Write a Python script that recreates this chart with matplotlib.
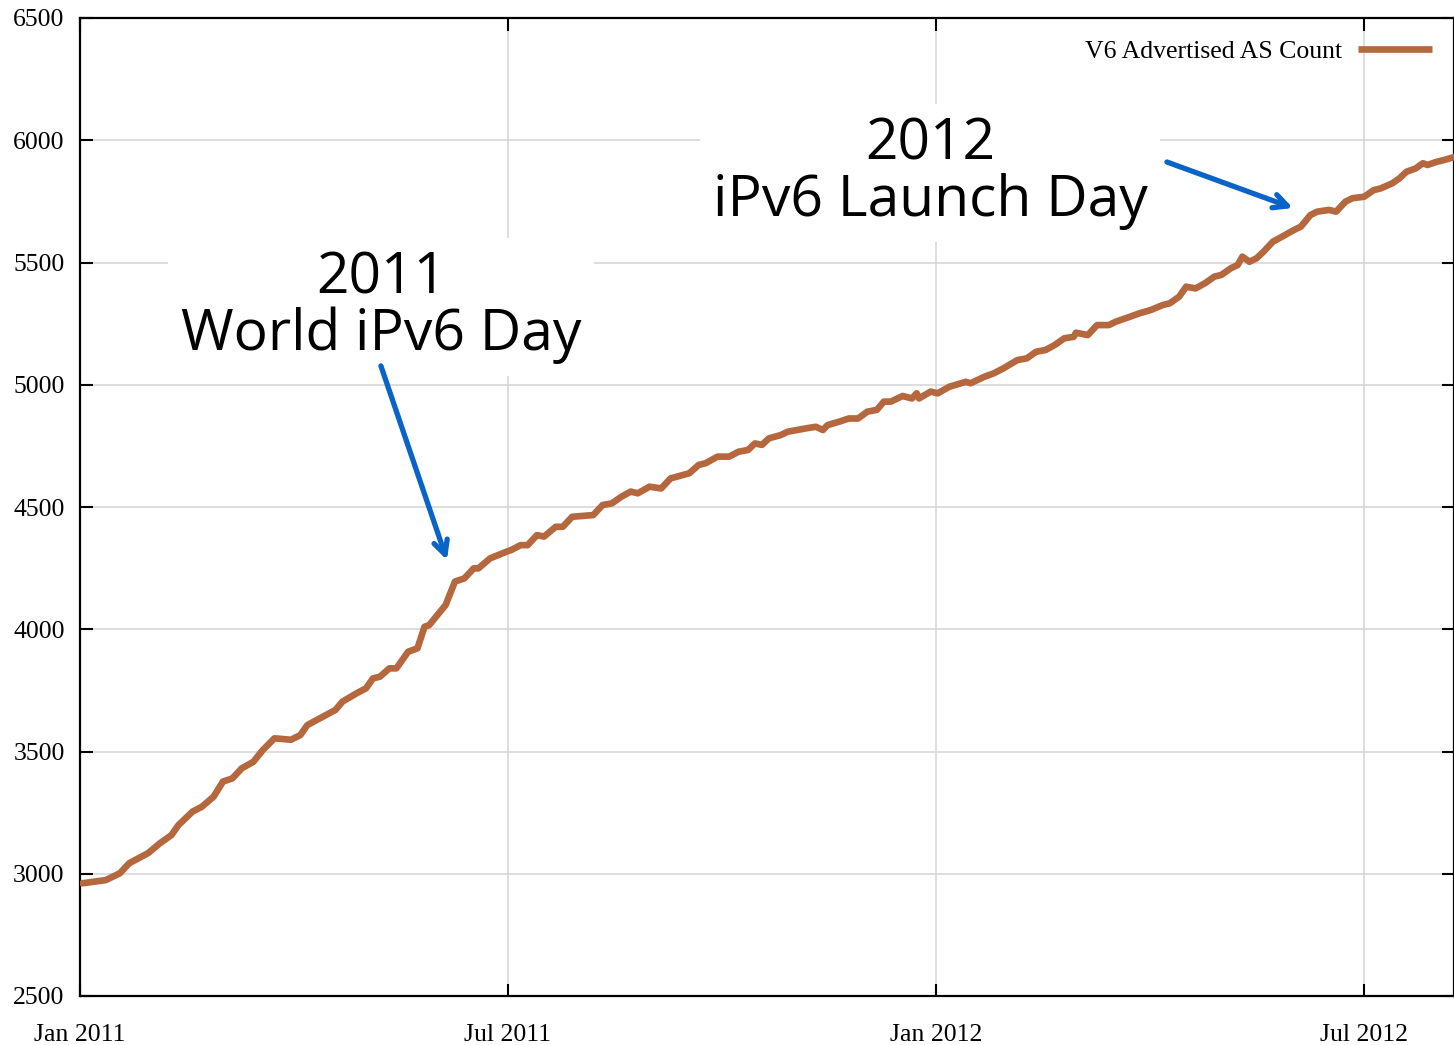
import matplotlib
matplotlib.use("Agg")
import matplotlib.pyplot as plt
import pandas as pd
import numpy as np

# ---- data ----
start = "2011-01-01"
days = [1, 11, 17, 21, 29, 34, 39, 42, 48, 52, 57, 61, 65, 69, 74, 78, 83, 90, 94, 97,
        105, 109, 112, 118, 122, 125, 128, 132, 135, 140, 144, 147, 149, 156, 160, 164, 168, 170, 175, 182,
        184, 188, 191, 195, 198, 203, 206, 210, 219, 223, 227, 231, 235, 238, 243, 248, 252, 260, 264, 267,
        272, 277, 281, 285, 288, 291, 294, 299, 302, 310, 314, 317, 319, 324, 328, 332, 336, 340, 343, 346,
        351, 355, 357, 358, 363, 366, 371, 378, 380, 386, 390, 394, 400, 404, 408, 412, 416, 420, 424, 425,
        430, 434, 439, 442, 448, 452, 457, 462, 465, 469, 472, 476, 480, 484, 487, 491, 494, 496, 499, 502,
        505, 509, 513, 518, 521, 525, 528, 533, 536, 540, 543, 548, 552, 555, 560, 563, 566, 570, 573, 575,
        579, 582, 587]
as_count = [2961, 2974, 3002, 3043, 3084, 3124, 3158, 3199, 3254, 3274, 3315, 3377, 3390, 3431, 3458, 3506, 3554, 3548, 3567, 3608,
            3649, 3670, 3704, 3738, 3758, 3799, 3806, 3840, 3840, 3908, 3922, 4010, 4017, 4099, 4195, 4208, 4249, 4249, 4290, 4317,
            4324, 4344, 4344, 4385, 4379, 4419, 4419, 4460, 4467, 4508, 4515, 4542, 4563, 4556, 4583, 4576, 4617, 4638, 4672, 4679,
            4706, 4706, 4726, 4733, 4760, 4754, 4781, 4794, 4808, 4822, 4828, 4815, 4835, 4849, 4862, 4862, 4890, 4897, 4931, 4931,
            4954, 4944, 4965, 4944, 4972, 4965, 4992, 5012, 5006, 5033, 5047, 5067, 5101, 5108, 5135, 5142, 5163, 5190, 5196, 5213,
            5203, 5244, 5244, 5258, 5278, 5292, 5306, 5326, 5333, 5360, 5401, 5394, 5415, 5442, 5449, 5476, 5490, 5524, 5503, 5517,
            5544, 5585, 5606, 5633, 5647, 5694, 5708, 5715, 5708, 5749, 5763, 5769, 5796, 5803, 5824, 5844, 5871, 5885, 5906, 5899,
            5912, 5919, 5933]
series_label = "V6 Advertised AS Count"

# x ticks every half year (365.25/2 days), as in the original
tick_days = [0, 182.625, 365.25, 547.875]
tick_labels = ["Jan 2011", "Jul 2011", "Jan 2012", "Jul 2012"]
y_ticks = [2500, 3000, 3500, 4000, 4500, 5000, 5500, 6000, 6500]

annot1_text = "2011\nWorld iPv6 Day"
annot1_pos = (128.4, 5318)
annot1_tip = (156.6, 4283)
annot1_tail = (128.4, 5077)

annot2_text = "2012\niPv6 Launch Day"
annot2_pos = (362.7, 5866)
annot2_tip = (517.6, 5723)
annot2_tail = (463.8, 5911)

# ---- figure ----
W, H = 1454, 1045
fig = plt.figure(figsize=(W / 100, H / 100), dpi=100)
ax = fig.add_axes([80 / W, (H - 996) / H, (1454 - 80) / W, (996 - 18) / H])

x = np.array(days, dtype=float)

line_color = "#b5673e"
ax.plot(x, as_count, color=line_color, lw=4.8, solid_joinstyle="round",
        solid_capstyle="round", label=series_label, zorder=4)

ax.set_xlim(0, 586.3)
ax.set_ylim(2500, 6500)
ax.set_xticks(tick_days)
ax.set_xticklabels(tick_labels)
ax.set_yticks(y_ticks)

serif = ["Liberation Serif", "DejaVu Serif"]
for lab in ax.get_xticklabels() + ax.get_yticklabels():
    lab.set_fontfamily(serif)
    lab.set_fontsize(18.5)

ax.grid(True, color="#d4d4d4", lw=1.1, zorder=0)
ax.set_axisbelow(True)
ax.tick_params(direction="in", length=9, width=1.5, top=True, right=True,
               color="black")
ax.tick_params(axis="x", pad=20)
ax.tick_params(axis="y", pad=11)
for s in ax.spines.values():
    s.set_linewidth(1.6)
    s.set_color("black")

leg = ax.legend(loc="upper right", frameon=False, markerfirst=False,
                prop={"family": serif, "size": 18.5}, handlelength=2.9,
                handletextpad=0.6, borderaxespad=0.55, borderpad=0.3)
for lh in leg.get_lines():
    lh.set_linewidth(4.8)
    lh.set_solid_capstyle("butt")

hand = ["Open Sans", "DejaVu Sans"]
box = dict(boxstyle="square,pad=0.22", fc="white", ec="none")
ax.text(*annot1_pos, annot1_text, ha="center", va="center", ma="center",
        fontsize=41, family=hand, linespacing=0.98, bbox=box, zorder=2)
ax.text(*annot2_pos, annot2_text, ha="center", va="center", ma="center",
        fontsize=41, family=hand, linespacing=0.98, bbox=box, zorder=2)

arrow_color = "#0a64c8"
for tail, tip in [(annot1_tail, annot1_tip), (annot2_tail, annot2_tip)]:
    ax.annotate("", xy=tip, xytext=tail,
                arrowprops=dict(arrowstyle="->,head_length=1.0,head_width=0.5",
                                color=arrow_color, lw=3.8,
                                shrinkA=0, shrinkB=0),
                zorder=5)

fig.savefig("out.png", dpi=100)
